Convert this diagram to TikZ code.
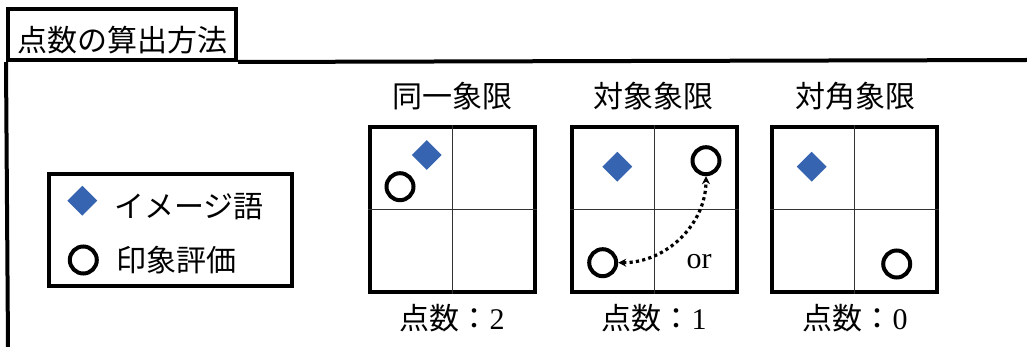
\documentclass[tikz,border=0pt]{standalone}
\usepackage{fontspec}
\setmainfont{Liberation Serif}
\newfontfamily\jp{Noto Sans CJK JP}
\usetikzlibrary{shapes.geometric,arrows.meta}
\definecolor{dblue}{RGB}{54,100,176}
\begin{document}
\begin{tikzpicture}[x=1pt,y=-1pt,
  txt/.style={inner sep=0pt, anchor=base, font=\fontsize{30}{36}\selectfont\jp},
  ltxt/.style={txt, anchor=base west},
  panel/.style={draw, line width=4.5pt, minimum size=165pt, inner sep=0pt},
  dmd/.style={diamond, fill=dblue, minimum size=30pt, inner sep=0pt},
  ring/.style={circle, draw, line width=4pt, minimum size=27pt, inner sep=0pt},
  divider/.style={draw=black!80, line width=1.5pt},
  frameline/.style={line width=4pt},
  dotarrow/.style={line width=3.2pt, dash pattern=on 3.2pt off 3.2pt,
    {Stealth[length=8pt,width=8pt]}-{Stealth[length=8pt,width=8pt]}}
]
\useasboundingbox (0,0) rectangle (1027,347);

% title and frame
\node[draw, line width=4pt, minimum width=228pt, minimum height=51pt, inner sep=0pt] (titlebox) at (122,34.5) {};
\node[txt] (title) at (122,52) {点数の算出方法};
\coordinate (frameR) at (1027,60);
\coordinate (frameB) at (8,347);
\draw[frameline] (titlebox.south east) -- (frameR);
\draw[frameline] (titlebox.south west) -- (frameB);

% legend
\node[draw, line width=4pt, minimum width=243pt, minimum height=112pt, inner sep=0pt] (legend) at (170.5,230) {};
\node[dmd] (ld) at (82.3,200.7) {};
\node[ring] (lc) at (83.3,260) {};
\node[ltxt] (lt1) at (114,217.5) {イメージ語};
\node[ltxt] (lt2) at (116,271.5) {印象評価};

% panels
\foreach \n/\x in {p1/452.5, p2/654.7, p3/854.7}{
  \node[panel] (\n) at (\x,209.5) {};
  \draw[divider] (\n.north) -- (\n.south);
  \draw[divider] (\n.west) -- (\n.east);
}
\node[txt] (h1) at (452.5,108) {同一象限};
\node[txt] (h2) at (653.5,108) {対象象限};
\node[txt] (h3) at (855.7,108) {対角象限};
\node[txt] (s1) at (452,329.5) {点数：\fontspec{Liberation Serif}2};
\node[txt] (s2) at (654,329.5) {点数：\fontspec{Liberation Serif}1};
\node[txt] (s3) at (855,329.5) {点数：\fontspec{Liberation Serif}0};

% panel 1
\node[dmd] (d1) at (426.7,155) {};
\node[ring] (c1) at (400,186.7) {};
% panel 2
\node[dmd] (d2) at (617.3,166.7) {};
\node[ring] (c2a) at (706,160.7) {};
\node[ring] (c2b) at (602.7,262.7) {};
\node[inner sep=0pt, anchor=base, font=\fontsize{30}{36}\selectfont] (or) at (699,268.5) {or};
\draw[dotarrow] (c2b.east) to[out=0, in=-90] (c2a.south);
% panel 3
\node[dmd] (d3) at (811.7,166.7) {};
\node[ring] (c3) at (896.7,264) {};
\end{tikzpicture}
\end{document}
